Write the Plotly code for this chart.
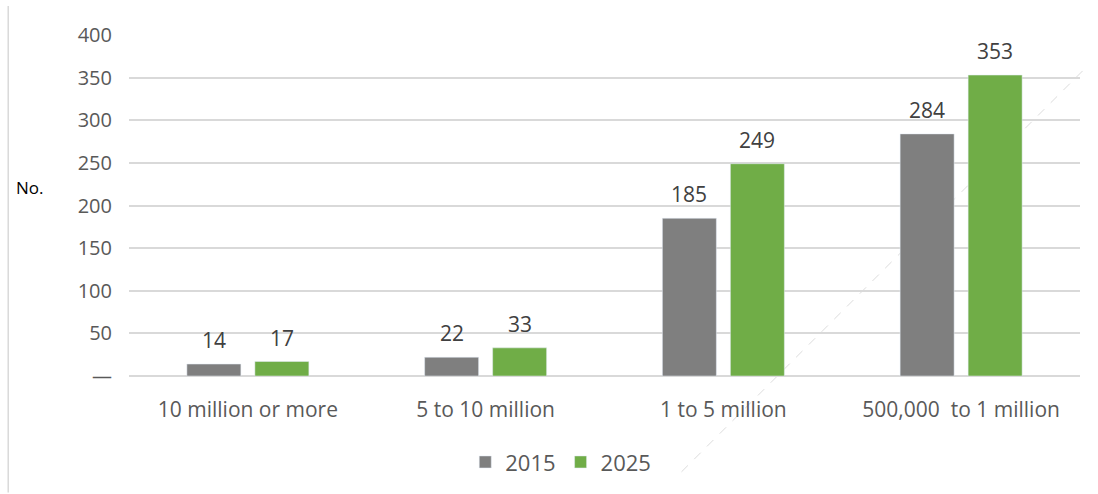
import plotly.graph_objects as go

# Number of urban agglomerations by population size class
categories = ["10 million or more", "5 to 10 million", "1 to 5 million", "500,000  to 1 million"]
counts_2015 = [14, 22, 185, 284]
counts_2025 = [17, 33, 249, 353]
tick_values = [0, 50, 100, 150, 200, 250, 300, 350, 400]
tick_labels = ["—", "50", "100", "150", "200", "250", "300", "350", "400"]

FONT = "Open Sans"
TEXT = "#595959"
LABEL = "#404040"
GREY = "#7f7f7f"
GREEN = "#70ad47"
GRID = "#d9d9d9"

fig = go.Figure()
fig.add_trace(go.Bar(name="2015", x=categories, y=counts_2015, marker_color=GREY))
fig.add_trace(go.Bar(name="2025", x=categories, y=counts_2025, marker_color=GREEN))

# value labels above each bar, offset to the bar centres within a group
annotations = []
for series, shift in ((counts_2015, -34), (counts_2025, 34)):
    for cat, val in zip(categories, series):
        annotations.append(dict(
            x=cat, y=val, xref="x", yref="y", text=str(val), showarrow=False,
            xanchor="center", yanchor="bottom", xshift=shift, yshift=8,
            font=dict(family=FONT, size=21, color=LABEL),
        ))

annotations.append(dict(text="No.", xref="paper", yref="paper", x=-0.121, y=0.553,
                        xanchor="left", yanchor="middle", showarrow=False,
                        font=dict(family=FONT, size=17, color="#000000")))

fig.update_layout(
    width=1098, height=494,
    margin=dict(l=129, r=18, t=35, b=117),
    paper_bgcolor="white", plot_bgcolor="white",
    barmode="group", bargap=0.428, bargroupgap=0.206,
    font=dict(family=FONT, size=20, color=TEXT),
    showlegend=True,
    legend=dict(orientation="h", x=0.454, y=-0.249, xanchor="center", yanchor="middle",
                font=dict(family=FONT, size=22, color=TEXT), itemwidth=30,
                traceorder="normal"),
    xaxis=dict(showline=False, showgrid=False, ticks="", ticklabelstandoff=19,
               tickfont=dict(family=FONT, size=21, color=TEXT)),
    yaxis=dict(range=[0, 400], tickvals=tick_values, ticktext=tick_labels,
               showgrid=True, gridcolor=GRID, gridwidth=1.5, zeroline=True,
               zerolinecolor=GRID, zerolinewidth=1.5, showline=False, ticks="",
               ticklabelstandoff=16,
               tickfont=dict(family=FONT, size=20, color=TEXT)),
    annotations=annotations,
    shapes=[
        # frame edge on the left
        dict(type="line", xref="paper", yref="paper", x0=-0.127, x1=-0.127,
             y0=1.085, y1=-0.342, line=dict(color=GRID, width=1.5)),
        # faint dashed diagonal stroke
        dict(type="line", xref="paper", yref="paper", x0=0.581, y0=-0.281,
             x1=1.005, y1=0.901, line=dict(color="#dcdcdc", width=1, dash="dash"),
             layer="below"),
    ],
)

fig.write_html("out.html")
